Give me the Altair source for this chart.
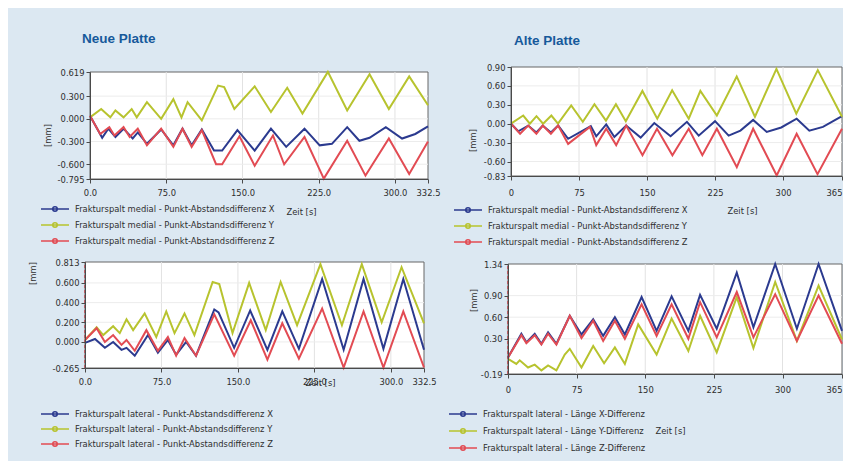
import altair as alt
import pandas as pd

BLUE, YELLOW, RED = "#2b3a8f", "#b7c32e", "#e24b53"
BG = "#dce8f2"
FONT = "DejaVu Sans Condensed, sans-serif"
TITLE_FONT = "Liberation Sans, Arial, sans-serif"
W, H = 835, 453

# ---------------- Neue Platte - medial (top left) ----------------
TL_X_T = [0, 12, 18, 25, 33, 42, 47, 56, 70, 82, 91, 100, 110, 122, 130, 145, 162, 178, 193, 211, 226, 238, 253, 265, 275, 291, 307, 320, 332.5]
TL_X_V = [0.04, -0.25, -0.13, -0.24, -0.13, -0.26, -0.18, -0.33, -0.14, -0.35, -0.13, -0.35, -0.14, -0.42, -0.42, -0.15, -0.42, -0.13, -0.37, -0.13, -0.35, -0.33, -0.11, -0.29, -0.25, -0.11, -0.26, -0.2, -0.1]
TL_Y_T = [0, 11, 20, 25, 33, 41, 46, 56, 70, 82, 90, 96, 110, 126, 132, 142, 162, 178, 194, 209, 234, 253, 275, 294, 314, 332.5]
TL_Y_V = [0.02, 0.13, 0.02, 0.11, 0.02, 0.13, 0.02, 0.22, 0.0, 0.26, 0.02, 0.22, -0.02, 0.44, 0.42, 0.13, 0.43, 0.09, 0.41, 0.07, 0.62, 0.11, 0.59, 0.13, 0.56, 0.18]
TL_Z_T = [0, 10, 19, 24, 33, 39, 47, 56, 70, 82, 91, 100, 110, 124, 130, 147, 162, 180, 191, 211, 230, 253, 271, 294, 314, 332.5]
TL_Z_V = [0.04, -0.2, -0.11, -0.22, -0.11, -0.24, -0.13, -0.35, -0.13, -0.37, -0.13, -0.37, -0.15, -0.6, -0.6, -0.23, -0.62, -0.22, -0.6, -0.24, -0.79, -0.29, -0.75, -0.26, -0.73, -0.3]

# ---------------- Alte Platte - medial (top right) ----------------
TR_X_T = [0, 8, 19, 28, 35, 44, 52, 63, 88, 94, 105, 114, 127, 143, 158, 176, 194, 207, 225, 240, 253, 267, 282, 298, 315, 329, 344, 365]
TR_X_V = [0.0, -0.12, -0.03, -0.14, -0.03, -0.14, -0.03, -0.24, -0.04, -0.2, -0.01, -0.21, -0.03, -0.22, 0.01, -0.2, 0.03, -0.19, 0.04, -0.19, -0.11, 0.06, -0.13, -0.06, 0.08, -0.11, -0.05, 0.12]
TR_Y_T = [0, 13.5, 20.8, 28.1, 35.4, 44.5, 51.8, 66.4, 79.2, 92, 104.7, 115.7, 126.6, 144.9, 161.3, 177.7, 196, 208.8, 227, 248.9, 269, 292.7, 314.6, 338.3, 365]
TR_Y_V = [0.0, 0.13, 0.0, 0.12, 0.0, 0.13, 0.0, 0.29, 0.03, 0.31, 0.05, 0.31, 0.04, 0.52, 0.08, 0.53, 0.08, 0.52, 0.13, 0.75, 0.11, 0.87, 0.16, 0.85, 0.11]
TR_Z_T = [0, 10, 19, 28, 35, 44, 52, 63, 87, 94, 105, 116, 127, 145, 161, 178, 196, 211, 227, 249, 267, 293, 315, 338, 365]
TR_Z_V = [0.0, -0.16, -0.03, -0.16, -0.03, -0.16, -0.03, -0.32, -0.05, -0.34, -0.08, -0.34, -0.03, -0.5, -0.08, -0.5, -0.08, -0.5, -0.08, -0.69, -0.08, -0.82, -0.16, -0.8, -0.08]

# ---------------- Neue Platte - lateral (bottom left) ----------------
BL_X_T = [0, 9.8, 19.5, 27.6, 35.8, 40.7, 48.8, 61.8, 71.5, 81.3, 89.4, 99.2, 108.9, 126.8, 131, 146.3, 162, 178.9, 193.5, 209.8, 232.6, 253.7, 273.2, 292.7, 312.2, 332.5]
BL_X_V = [-0.01, 0.03, -0.06, 0.0, -0.08, -0.06, -0.14, 0.07, -0.11, 0.02, -0.13, 0.0, -0.14, 0.33, 0.3, -0.06, 0.32, -0.08, 0.31, -0.07, 0.64, -0.08, 0.64, -0.07, 0.64, -0.08]
BL_Y_T = [0, 11.4, 17.9, 27.6, 34.1, 40.7, 47.2, 58.5, 69.9, 79.7, 87.8, 97.6, 107.3, 125.2, 131.7, 144.7, 161, 177.3, 191.9, 208, 230.9, 252, 271.5, 291, 310.5, 332.5]
BL_Y_V = [0.02, 0.15, 0.07, 0.16, 0.09, 0.23, 0.12, 0.29, 0.05, 0.31, 0.09, 0.29, 0.07, 0.61, 0.59, 0.09, 0.6, 0.12, 0.61, 0.17, 0.79, 0.17, 0.79, 0.2, 0.76, 0.19]
BL_Z_T = [0, 11.4, 19.5, 27.6, 35.8, 40.7, 48.8, 60.2, 71.5, 81.3, 89.4, 97.6, 108.9, 126.8, 146.3, 162.6, 178.9, 193.5, 209.8, 232.6, 253.7, 273.2, 292.7, 312.2, 332.5]
BL_Z_V = [0.02, 0.14, 0.0, 0.07, -0.03, 0.02, -0.09, 0.12, -0.09, 0.05, -0.14, 0.04, -0.14, 0.28, -0.14, 0.22, -0.18, 0.19, -0.17, 0.34, -0.26, 0.31, -0.26, 0.31, -0.26]

# ---------------- Alte Platte - lateral (bottom right) ----------------
BR_X_T = [0, 14.6, 20.1, 29.2, 36.5, 43.8, 52.9, 67.5, 80.3, 93.1, 104, 116.8, 127.7, 146, 162.4, 178.8, 197.1, 209.9, 228.1, 250, 268.2, 292, 315.7, 339.4, 365]
BR_X_V = [0.04, 0.37, 0.25, 0.37, 0.23, 0.39, 0.23, 0.62, 0.36, 0.57, 0.34, 0.6, 0.36, 0.88, 0.41, 0.89, 0.41, 0.91, 0.44, 1.22, 0.46, 1.34, 0.44, 1.34, 0.41]
BR_Y_T = [0, 9.1, 12.8, 21.9, 29.2, 36.5, 43.8, 52.9, 62, 67.5, 80.3, 93.1, 105, 116.8, 127.7, 142.3, 162.4, 178.8, 197.1, 209.9, 228.1, 250, 268.2, 292, 315.7, 339.4, 365]
BR_Y_V = [0.02, -0.05, 0.0, -0.1, -0.06, -0.14, -0.07, -0.14, 0.08, 0.16, -0.1, 0.2, -0.04, 0.18, -0.05, 0.5, 0.08, 0.58, 0.13, 0.62, 0.11, 0.88, 0.17, 1.09, 0.27, 1.04, 0.29]
BR_Z_T = [0, 14.6, 20.1, 29.2, 36.5, 43.8, 52.9, 67.5, 80.3, 93.1, 104, 116.8, 127.7, 146, 162.4, 178.8, 197.1, 209.9, 228.1, 250, 268.2, 292, 315.7, 339.4, 365]
BR_Z_V = [0.04, 0.35, 0.24, 0.35, 0.22, 0.37, 0.22, 0.62, 0.31, 0.55, 0.27, 0.55, 0.3, 0.78, 0.34, 0.78, 0.3, 0.81, 0.32, 0.95, 0.32, 0.92, 0.27, 0.9, 0.23]

# ---------------- labels / ticks ----------------
TL_LABELS = ["Frakturspalt medial - Punkt-Abstandsdifferenz X",
             "Frakturspalt medial - Punkt-Abstandsdifferenz Y",
             "Frakturspalt medial - Punkt-Abstandsdifferenz Z"]
TR_LABELS = TL_LABELS
BL_LABELS = ["Frakturspalt lateral - Punkt-Abstandsdifferenz X",
             "Frakturspalt lateral - Punkt-Abstandsdifferenz Y",
             "Frakturspalt lateral - Punkt-Abstandsdifferenz Z"]
BR_LABELS = ["Frakturspalt lateral - Länge X-Differenz",
             "Frakturspalt lateral - Länge Y-Differenz",
             "Frakturspalt lateral - Länge Z-Differenz"]

NEU_XTICKS = [0, 75, 150, 225, 300, 332.5]
ALT_XTICKS = [0, 75, 150, 225, 300, 365]
TL_YTICKS = [-0.795, -0.6, -0.3, 0.0, 0.3, 0.619]
TR_YTICKS = [-0.83, -0.6, -0.3, 0.0, 0.3, 0.6, 0.9]
BL_YTICKS = [-0.265, 0.0, 0.2, 0.4, 0.6, 0.813]
BR_YTICKS = [-0.19, 0.3, 0.6, 0.9, 1.34]

TITLES = ["Neue Platte", "Alte Platte"]
X_TITLE = "Zeit [s]"
Y_TITLE = "[mm]"

SYMBOL = "M-2,0L2,0M0.32,0A0.32,0.32,0,1,1,-0.32,0A0.32,0.32,0,1,1,0.32,0"
FS = 9.3


def fmt_expr(f):
    return "replace(format(datum.value, '%s'), '\u2212', '-')" % f


def panel(series, labels, xticks, yticks, xfmt, yfmt, xrng, yrng,
          xoff, yoff, xlpad, xt, yt, leg, row_pad, zero_rule):
    """Returns a list of unit charts (flat, so that independent axes survive)."""
    xdom = [xticks[0], xticks[-1]]
    ydom = [yticks[0], yticks[-1]]
    xs = alt.Scale(domain=xdom, range=xrng, nice=False, zero=False)
    ys = alt.Scale(domain=ydom, range=yrng, nice=False, zero=False)
    rows = []
    for lab, (T, V) in zip(labels, series):
        for t, v in zip(T, V):
            rows.append({"t": t, "v": v, "s": lab})
    df = pd.DataFrame(rows)

    common = dict(labelFont=FONT, labelFontSize=FS, labelColor="#2e2e2e",
                  titleFont=FONT, titleFontSize=FS, titleFontWeight="normal",
                  titleColor="#2e2e2e", domainColor="#4a4a4a", tickColor="#4a4a4a",
                  tickSize=4, grid=False, labelOverlap=False, zindex=1,
                  titleAlign="center", titleBaseline="middle")
    # last label of the 365 s axes is right-aligned so that it stays inside the page
    x_align = {"condition": {"test": "datum.value >= 360", "value": "right"}, "value": "center"}
    xaxis = alt.Axis(values=xticks, labelExpr=fmt_expr(xfmt), orient="bottom", offset=xoff,
                     labelFlush=False, labelPadding=xlpad, titleX=xt[0], titleY=xt[1],
                     labelAlign=x_align, titleAngle=0, **common)
    yaxis = alt.Axis(values=yticks, labelExpr=fmt_expr(yfmt), orient="left", offset=yoff,
                     labelPadding=2, titleX=yt[0], titleY=yt[1], titleAngle=270, **common)

    frame_df = pd.DataFrame([{"x0": xdom[0], "x1": xdom[1], "y0": ydom[0], "y1": ydom[1]}])
    frame = alt.Chart(frame_df).mark_rect(fill="white", stroke="#666666", strokeWidth=1).encode(
        x=alt.X("x0:Q", scale=xs, axis=xaxis, title=X_TITLE),
        x2="x1:Q",
        y=alt.Y("y0:Q", scale=ys, axis=yaxis, title=Y_TITLE),
        y2="y1:Q",
    )
    vg = alt.Chart(pd.DataFrame({"g": xticks[1:-1], "lo": ydom[0], "hi": ydom[1]})).mark_rule(
        color="#e2e2e2", strokeWidth=1).encode(
        x=alt.X("g:Q", scale=xs, axis=None), y=alt.Y("lo:Q", scale=ys, axis=None), y2="hi:Q")
    hg = alt.Chart(pd.DataFrame({"g": yticks[1:-1], "lo": xdom[0], "hi": xdom[1]})).mark_rule(
        color="#ececec", strokeWidth=1).encode(
        y=alt.Y("g:Q", scale=ys, axis=None), x=alt.X("lo:Q", scale=xs, axis=None), x2="hi:Q")
    units = [frame, vg, hg]
    if zero_rule:
        zr = alt.Chart(pd.DataFrame({"g": [xdom[0]], "lo": [ydom[0]], "hi": [ydom[1]]})).mark_rule(
            color="#d0303a", strokeWidth=1.2, strokeDash=[3, 2]).encode(
            x=alt.X("g:Q", scale=xs, axis=None), y=alt.Y("lo:Q", scale=ys, axis=None), y2="hi:Q")
        units.append(zr)
    lines = alt.Chart(df).mark_line(strokeWidth=2).encode(
        x=alt.X("t:Q", scale=xs, axis=None),
        y=alt.Y("v:Q", scale=ys, axis=None),
        color=alt.Color("s:N", scale=alt.Scale(domain=labels, range=[BLUE, YELLOW, RED]),
                        sort=labels,
                        legend=alt.Legend(orient="none", legendX=leg[0], legendY=leg[1], title=None,
                                          symbolType=SYMBOL, symbolSize=196, symbolStrokeWidth=1.6,
                                          labelFont=FONT, labelFontSize=FS, labelColor="#2e2e2e",
                                          labelOffset=12, rowPadding=row_pad, padding=0,
                                          labelLimit=400)),
    )
    units.append(lines)
    return units


u_tl = panel([(TL_X_T, TL_X_V), (TL_Y_T, TL_Y_V), (TL_Z_T, TL_Z_V)], TL_LABELS,
             NEU_XTICKS, TL_YTICKS, ".1f", ".3f", [82, 420], [171, 64],
             171 - H, -82, 5, (293, 32), (-43, 127), (39, 193), 2, False)
u_tr = panel([(TR_X_T, TR_X_V), (TR_Y_T, TR_Y_V), (TR_Z_T, TR_Z_V)], TR_LABELS,
             ALT_XTICKS, TR_YTICKS, "d", ".2f", [503, 834], [168, 59],
             168 - H, -503, 8, (734, 34), (-39, 132), (452, 194), 2, False)
u_bl = panel([(BL_X_T, BL_X_V), (BL_Y_T, BL_Y_V), (BL_Z_T, BL_Z_V)], BL_LABELS,
             NEU_XTICKS, BL_YTICKS, ".1f", ".3f", [77, 416], [360, 254],
             360 - H, -77, 5, (312, 14), (-53, 265), (39, 398), 1, True)
u_br = panel([(BR_X_T, BR_X_V), (BR_Y_T, BR_Y_V), (BR_Z_T, BR_Z_V)], BR_LABELS,
             ALT_XTICKS, BR_YTICKS, "d", ".2f", [500, 834], [366, 256],
             366 - H, -500, 7, (662, 56), (-35, 292), (447, 398), 3, True)

t1 = alt.Chart(pd.DataFrame({"t": [TITLES[0]]})).mark_text(
    font=TITLE_FONT, fontWeight="bold", fontSize=13.5, color="#16599b", align="left",
    baseline="middle").encode(x=alt.value(74), y=alt.value(31), text="t:N")
t2 = alt.Chart(pd.DataFrame({"t": [TITLES[1]]})).mark_text(
    font=TITLE_FONT, fontWeight="bold", fontSize=13.5, color="#16599b", align="left",
    baseline="middle").encode(x=alt.value(506), y=alt.value(33), text="t:N")

chart = alt.layer(*(u_tl + u_tr + u_bl + u_br), t1, t2).resolve_scale(
    x="independent", y="independent", color="independent"
).properties(
    width=W, height=H, autosize=alt.AutoSizeParams(type="none"), padding=0, background=BG
).configure_view(stroke=None)

chart.save("out.html", embed_options={"renderer": "svg", "actions": False})
